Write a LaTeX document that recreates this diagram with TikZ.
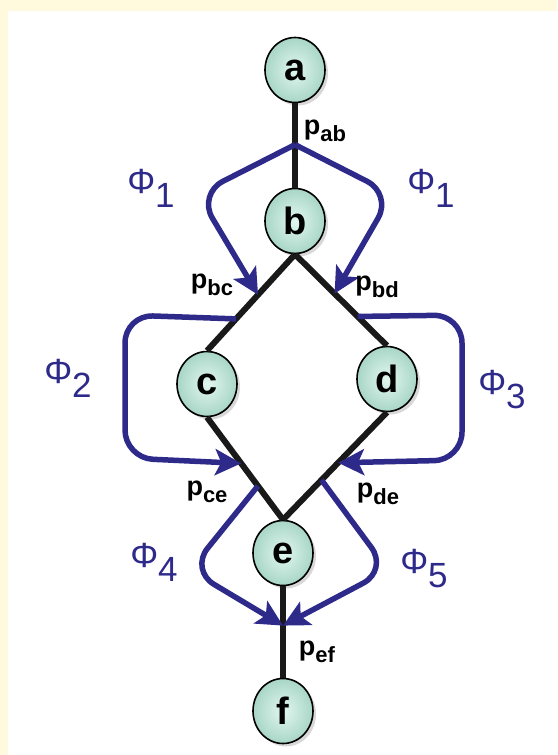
\documentclass[tikz,border=0pt]{standalone}
\usepackage{fontspec}
\setmainfont{Liberation Sans}
\usetikzlibrary{arrows.meta,shapes.geometric,shadows}

\definecolor{cream}{RGB}{255,249,222}
\definecolor{phiblue}{RGB}{46,42,138}
\definecolor{mintin}{RGB}{226,247,239}
\definecolor{mintout}{RGB}{168,214,198}

\newcommand{\lowsub}[1]{\raisebox{-7pt}{\fontsize{22}{22}\selectfont #1}}
\newcommand{\phisub}[1]{\raisebox{-14pt}{#1}}

\tikzset{
  vertex/.style={ellipse, draw, line width=1.6pt, minimum width=60pt, minimum height=65pt,
    inner sep=0pt, inner color=mintin, outer color=mintout,
    drop shadow={shadow xshift=3pt, shadow yshift=-3pt, opacity=0.3},
    font=\fontsize{38}{38}\selectfont\bfseries},
  link/.style={line width=6pt, black!90},
  phiarrow/.style={line width=5.5pt, phiblue, rounded corners=28pt,
    -{Stealth[length=26pt,width=26pt,inset=6pt]}},
  plabel/.style={inner sep=0pt, font=\fontsize{27}{27}\selectfont\bfseries},
  philabel/.style={inner sep=0pt, text=phiblue, font=\fontsize{35}{35}\selectfont},
}

\begin{document}
\begin{tikzpicture}[x=1pt,y=-1pt]
\useasboundingbox (0,0) rectangle (557,755);
\fill[cream] (0,0) rectangle (557,755);
\fill[white] (8,11) rectangle (557,755);

% vertices
\node[vertex] (a) at (295,70) {a};
\node[vertex] (b) at (295,221) {b};
\node[vertex] (c) at (207,384) {c};
\node[vertex] (d) at (387,379) {d};
\node[vertex] (e) at (283,553) {e};
\node[vertex] (f) at (283,711) {f};

% paths
\draw[link] (a) -- (b) coordinate[pos=0.49] (ab);
\draw[link] (b.south) -- (c.north) coordinate[pos=0.42] (bc1) coordinate[pos=0.67] (bc2);
\draw[link] (b.south) -- (d.north) coordinate[pos=0.43] (bd1) coordinate[pos=0.68] (bd2);
\draw[link] (c.south) -- (e.north) coordinate[pos=0.45] (ce1) coordinate[pos=0.67] (ce2);
\draw[link] (d.south) -- (e.north) coordinate[pos=0.47] (de1) coordinate[pos=0.63] (de2);
\draw[link] (e) -- (f) coordinate[pos=0.43] (ef);

% flows
\draw[phiarrow] (ab) -- (198,194) -- (bc1);
\draw[phiarrow] (ab) -- (392,194) -- (bd1);
\draw[phiarrow] (bc2) -- (125,315) -- (125,458) -- (ce1);
\draw[phiarrow] (bd2) -- (462,315) -- (462,460) -- (de1);
\draw[phiarrow] (ce2) -- (190,570) -- (ef);
\draw[phiarrow] (de2) -- (388,570) -- (ef);

% labels
\node[plabel] (pab) at (325,131) {p\lowsub{ab}};
\node[plabel] (pbc) at (212,285) {p\lowsub{bc}};
\node[plabel] (pbd) at (377,287) {p\lowsub{bd}};
\node[plabel] (pce) at (207,492) {p\lowsub{ce}};
\node[plabel] (pde) at (378,494) {p\lowsub{de}};
\node[plabel] (pef) at (317,652) {p\lowsub{ef}};

\node[philabel] (phi1l) at (151,188) {Φ\phisub{1}};
\node[philabel] (phi1r) at (431,188) {Φ\phisub{1}};
\node[philabel] (phi2) at (68,378) {Φ\phisub{2}};
\node[philabel] (phi3) at (502,390) {Φ\phisub{3}};
\node[philabel] (phi4) at (154,562) {Φ\phisub{4}};
\node[philabel] (phi5) at (424,569) {Φ\phisub{5}};
\end{tikzpicture}
\end{document}
